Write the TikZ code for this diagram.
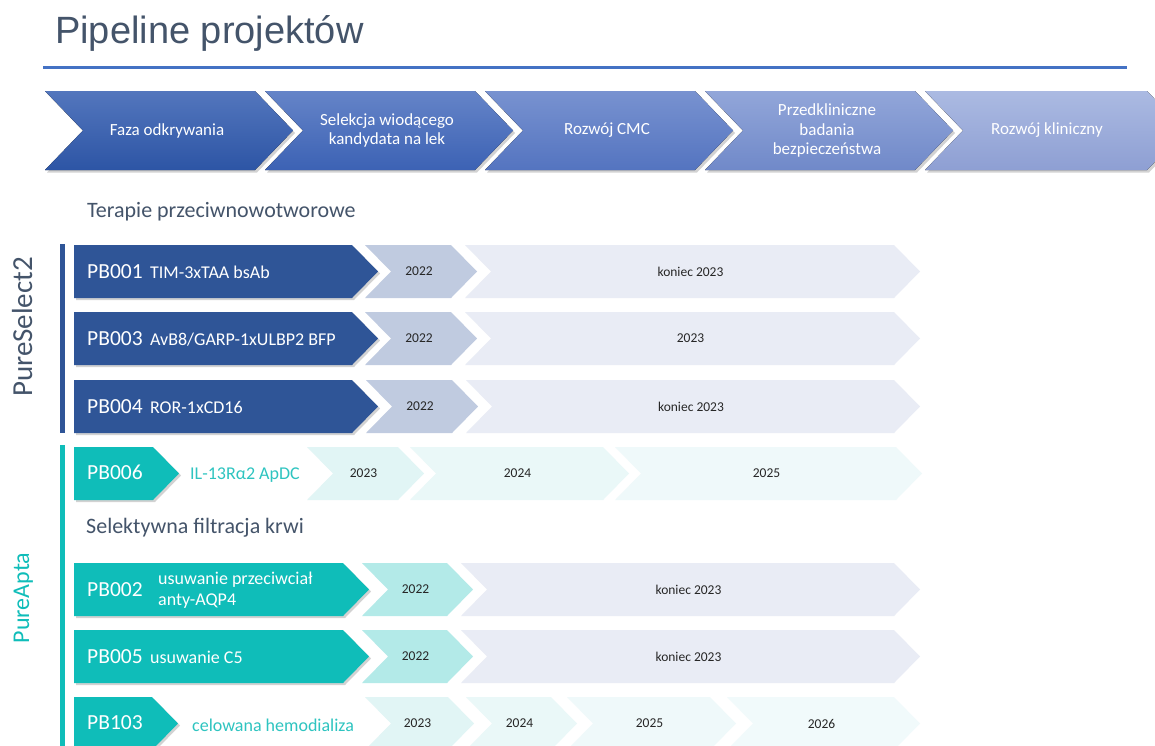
\documentclass[tikz,border=0pt]{standalone}
\usepackage{fontspec}
\setmainfont{Carlito}
\newfontfamily\titlefont{Liberation Sans}
\usetikzlibrary{shadows}
\usetikzlibrary{positioning}
\usetikzlibrary{calc}

\definecolor{slate}{HTML}{44546A}
\definecolor{rule}{HTML}{4472C4}
\definecolor{psblue}{HTML}{2F5597}
\definecolor{psyear}{HTML}{C0CBE0}
\definecolor{pslong}{HTML}{E9ECF5}
\definecolor{apteal}{HTML}{0FBDB9}
\definecolor{aptext}{HTML}{2EC4C0}
\definecolor{apyear}{HTML}{B3EAE8}
\definecolor{appaleA}{HTML}{E1F5F5}
\definecolor{appaleB}{HTML}{EAF8F8}
\definecolor{appaleC}{HTML}{EFF9FA}
\definecolor{appaleD}{HTML}{F1FAFB}
% header gradients
\definecolor{hdtop0}{HTML}{5376BD}\definecolor{hdbot0}{HTML}{2D55A5}
\definecolor{hdtop1}{HTML}{6584C8}\definecolor{hdbot1}{HTML}{3C62B4}
\definecolor{hdtop2}{HTML}{7892D0}\definecolor{hdbot2}{HTML}{5474C0}
\definecolor{hdtop3}{HTML}{92A6D9}\definecolor{hdbot3}{HTML}{7089C9}
\definecolor{hdtop4}{HTML}{ABBAE2}\definecolor{hdbot4}{HTML}{8E9FD3}

\tikzset{
  hdshadow/.style={drop shadow={opacity=0.35, shadow xshift=2pt, shadow yshift=-2.5pt}},
  boxshadow/.style={drop shadow={opacity=0.35, shadow xshift=2pt, shadow yshift=-2pt}},
  hdtxt/.style={font=\fontsize{17}{19.5}\selectfont, text=white, align=center},
  pbtxt/.style={font=\fontsize{21.5}{24}\selectfont, text=white, anchor=west, inner sep=0pt},
  desctxt/.style={font=\fontsize{18}{21}\selectfont, text=white, inner sep=0pt},
  yeartxt/.style={font=\fontsize{13.5}{16}\selectfont, text=black!85, inner sep=0pt},
  sectxt/.style={font=\fontsize{22}{26}\selectfont, text=slate, anchor=west, inner sep=0pt},
}

\begin{document}
\begin{tikzpicture}[x=1pt, y=-1pt]
 \path[use as bounding box, fill=white] (0,0) rectangle (1155,745);

 %title
 \node[font=\titlefont\fontsize{38}{41}\selectfont, text=slate, anchor=base west, inner sep=0pt] (title) at (55,43) {Pipeline projektów};
 \draw[rule, line width=3pt] (43,67) -- (1127,67);

 %header
 \foreach \i/\xr/\name in {0/210/{Faza odkrywania}, 1/210/{Selekcja wiodącego\\kandydata na lek}, 2/210/{Rozwój CMC}, 3/210/{Przedkliniczne\\badania\\bezpieczeństwa}, 4/222/{Rozwój kliniczny}} {
   \pgfmathsetmacro{\x}{45+220*\i}
   \fill[top color=hdtop\i, bottom color=hdbot\i, hdshadow] (\x,91) -- (\x+\xr,91) -- (\x+\xr+38,130.5) -- (\x+\xr,170) -- (\x,170) -- (\x+38,130.5) -- cycle;
   \node[hdtxt] (hd\i) at (\x+122,130.5) {\name};
 }

 %section titles
 \node[sectxt] (onco) at (87,212) {Terapie przeciwnowotworowe};
 \node[sectxt] (blood) at (86,528) {Selektywna filtracja krwi};

 %platform bars
 \fill[psblue] (60,244) rectangle (65,433);
 \fill[apteal] (60,445) rectangle (65,750);
 \node[rotate=90, anchor=base, font=\fontsize{29}{32}\selectfont, text=slate, inner sep=0pt] (ps2) at (32,327) {PureSelect2};
 \node[rotate=90, anchor=base, font=\fontsize{24}{28}\selectfont, text=apteal, inner sep=0pt] (apta) at (29,598) {PureApta};

 %year chevrons
 \foreach \n/\dy/\a/\b/\col/\yr in {
   1/245/365/451/psyear/2022, 2/245/465/894/pslong/{koniec 2023},
   3/312/365/451/psyear/2022, 4/312/465/894/pslong/2023,
   5/380/366/452/psyear/2022, 6/380/466/894/pslong/{koniec 2023},
   7/447/307/398/appaleA/2023, 8/447/410/603/appaleB/2024, 9/447/615/896/appaleC/2025,
   10/563/362/447/apyear/2022, 11/563/461/894/pslong/{koniec 2023},
   12/630/362/447/apyear/2022, 13/630/461/894/pslong/{koniec 2023},
   14/697/365/448/appaleA/2023, 15/697/466/551/appaleB/2024, 16/697/567/710/appaleC/2025, 17/697/727/894/appaleD/2026} {
   \fill[\col] (\a,\dy) -- (\b,\dy) -- (\b+26,\dy+26.5) -- (\b,\dy+53) -- (\a,\dy+53) -- (\a+26,\dy+26.5) -- cycle;
   \node[yeartxt] (yr\n) at ({(\a+\b)/2+11},\dy+26.5) {\yr};
 }

 %project boxes
 \foreach \r/\dy/\b/\col in {1/245/352/psblue, 3/312/352/psblue, 4/380/352/psblue, 6/447/153/apteal, 2/563/343/apteal, 5/630/343/apteal, 103/697/152/apteal} {
   \fill[\col, boxshadow] (74,\dy) -- (\b,\dy) -- (\b+26,\dy+26.5) -- (\b,\dy+53) -- (74,\dy+53) -- cycle;
 }

 %PureSelect2 projects
 \foreach \r/\dy/\name in {1/245/{TIM-3xTAA bsAb}, 3/312/{AvB8/GARP-1xULBP2 BFP}, 4/380/{ROR-1xCD16}} {
   \node[pbtxt] (pb\r) at (87,\dy+26.5) {PB00\r};
   \node[desctxt, base right=7pt of pb\r] (desc\r) {\name};
 }

 %PureApta projects
 \node[pbtxt] (pb6) at (87,472) {PB006};
 \node[desctxt, text=aptext, anchor=west] (desc6) at (190,475) {IL-13Rα2 ApDC};
 \node[pbtxt] (pb2) at (87,589.5) {PB002};
 \node[desctxt, anchor=west, align=left, font=\fontsize{18}{21.5}\selectfont] (desc2) at (158,590) {usuwanie przeciwciał\\anty-AQP4};
 \node[pbtxt] (pb5) at (87,656.5) {PB005};
 \node[desctxt, base right=7pt of pb5] (desc5) {usuwanie C5};
 \node[pbtxt] (pb103) at (87,722.5) {PB103};
 \node[desctxt, text=aptext, anchor=west] (desc103) at (192,725) {celowana hemodializa};
\end{tikzpicture}
\end{document}
